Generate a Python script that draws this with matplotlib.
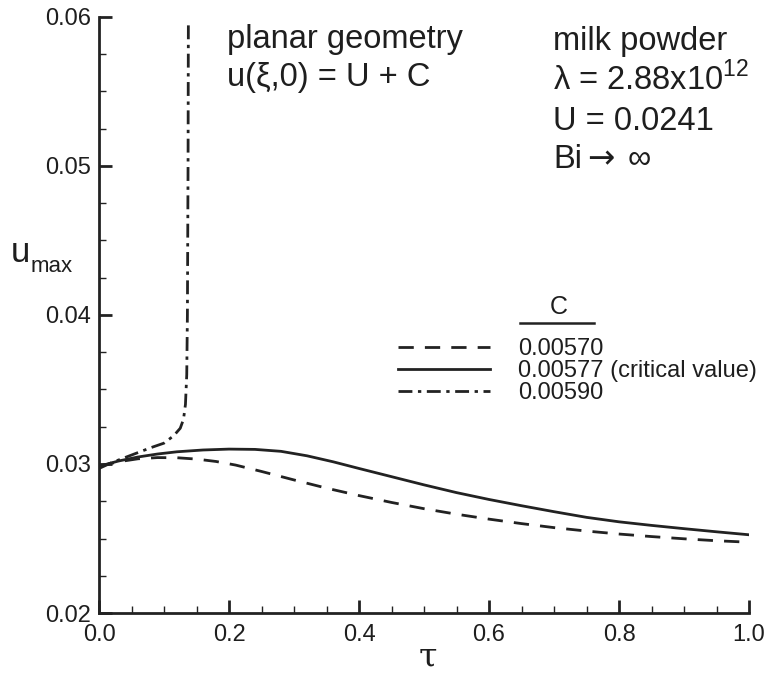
import matplotlib
matplotlib.use('Agg')
import matplotlib.pyplot as plt
from matplotlib.ticker import MultipleLocator
from matplotlib.lines import Line2D

plt.rcParams['font.family'] = ['Liberation Sans', 'DejaVu Sans']
plt.rcParams['mathtext.fontset'] = 'custom'
plt.rcParams['mathtext.rm'] = 'Liberation Sans'

# ---- data ----
tau_570 = [0.0, 0.03, 0.06, 0.09, 0.12, 0.15, 0.18, 0.21, 0.25, 0.30, 0.35, 0.40,
           0.45, 0.50, 0.55, 0.60, 0.65, 0.70, 0.75, 0.80, 0.85, 0.90, 0.95, 1.0]
u_570 = [0.02985, 0.03015, 0.03035, 0.03043, 0.03042, 0.03033, 0.03017, 0.02993,
         0.02950, 0.02893, 0.02838, 0.02788, 0.02742, 0.02700, 0.02663, 0.02630,
         0.02600, 0.02573, 0.02550, 0.02530, 0.02513, 0.02498, 0.02485, 0.02475]

tau_577 = [0.0, 0.03, 0.06, 0.09, 0.12, 0.16, 0.20, 0.24, 0.28, 0.32, 0.36, 0.40,
           0.45, 0.50, 0.55, 0.60, 0.65, 0.70, 0.75, 0.80, 0.85, 0.90, 0.95, 1.0]
u_577 = [0.02985, 0.03020, 0.03047, 0.03067, 0.03082, 0.03094, 0.03100, 0.03098,
         0.03085, 0.03055, 0.03015, 0.02970, 0.02915, 0.02860, 0.02808, 0.02762,
         0.02720, 0.02680, 0.02642, 0.02612, 0.02588, 0.02566, 0.02545, 0.02525]

tau_590 = [0.0, 0.02, 0.05, 0.08, 0.10, 0.115, 0.125, 0.13, 0.133, 0.135, 0.136,
           0.137, 0.1375]
u_590 = [0.0297, 0.0301, 0.0306, 0.0311, 0.0314, 0.0319, 0.0324, 0.0330, 0.0340,
         0.0360, 0.0400, 0.0500, 0.0598]

labels = ['0.00570', '0.00577 (critical value)', '0.00590']

txt = '#1e1e1e'
W, H = 767, 675
fig = plt.figure(figsize=(W / 100, H / 100), dpi=100)
ax = fig.add_axes([99 / W, (H - 613) / H, 650 / W, 596 / H])

lw = 2.0
ax.plot(tau_570, u_570, color='#222222', lw=lw, dashes=(5.5, 4.0), label=labels[0])
ax.plot(tau_577, u_577, color='#222222', lw=lw, label=labels[1])
ax.plot(tau_590, u_590, color='#222222', lw=lw, dashes=(5.0, 2.0, 1.2, 2.0), label=labels[2])

ax.set_xlim(0, 1.0)
ax.set_ylim(0.02, 0.06)
ax.xaxis.set_major_locator(MultipleLocator(0.2))
ax.xaxis.set_minor_locator(MultipleLocator(0.05))
ax.yaxis.set_major_locator(MultipleLocator(0.01))
ax.yaxis.set_minor_locator(MultipleLocator(0.0025))
ax.xaxis.set_major_formatter(matplotlib.ticker.FormatStrFormatter('%.1f'))
ax.yaxis.set_major_formatter(matplotlib.ticker.FormatStrFormatter('%.2f'))

for s in ['top', 'right']:
    ax.spines[s].set_visible(False)
for s in ['left', 'bottom']:
    ax.spines[s].set_linewidth(2.0)
    ax.spines[s].set_color('#222222')
ax.tick_params(which='major', direction='in', length=9.5, width=2.0, color='#222222',
               labelsize=17, labelcolor=txt)
ax.tick_params(which='minor', direction='in', length=5, width=1.0, color='#222222')
ax.tick_params(axis='x', which='major', pad=8)
ax.tick_params(axis='y', which='major', pad=6)

# axis labels
fig.text(428 / W, 1 - 667 / H, '\u03c4', fontsize=24, family='DejaVu Serif',
         ha='center', va='baseline', color=txt)
fig.text(11 / W, 1 - 262 / H, 'u', fontsize=25, ha='left', va='baseline', color=txt)
fig.text(31 / W, 1 - 272 / H, 'max', fontsize=16, ha='left', va='baseline', color=txt)

# annotations
big = 23.5
fig.text(227 / W, 1 - 48 / H, 'planar geometry', fontsize=big, color=txt, va='baseline')
fig.text(227 / W, 1 - 86 / H, 'u(\u03be,0) = U + C', fontsize=big, color=txt, va='baseline')
fig.text(553 / W, 1 - 50 / H, 'milk powder', fontsize=big, color=txt, va='baseline')
fig.text(553 / W, 1 - 90 / H, '\u03bb = 2.88x10$^{12}$', fontsize=big, color=txt, va='baseline')
fig.text(553 / W, 1 - 130 / H, 'U = 0.0241', fontsize=big, color=txt, va='baseline')
fig.text(553 / W, 1 - 168 / H, 'Bi', fontsize=big, color=txt, va='baseline')
fig.text(587 / W, 1 - 168 / H, '\u2192', fontsize=big, family='DejaVu Sans', color=txt,
         va='baseline')
fig.text(628 / W, 1 - 168 / H, '\u221e', fontsize=big, color=txt, va='baseline')

# legend with underlined title
leg = ax.legend(loc='upper left', bbox_to_anchor=((398 - 99) / 650, (613 - 338) / 596),
                frameon=False, fontsize=17, handlelength=3.9, handletextpad=1.2,
                labelspacing=0.0, borderpad=0, borderaxespad=0)
for t in leg.get_texts():
    t.set_color(txt)
fig.text(559 / W, 1 - 307 / H, 'C', fontsize=18, color=txt, ha='center', va='center')
fig.add_artist(Line2D([520 / W, 594 / W], [1 - 323 / H, 1 - 323 / H],
                      transform=fig.transFigure, color='#222222', lw=1.8))

fig.savefig('out.png', dpi=100)
